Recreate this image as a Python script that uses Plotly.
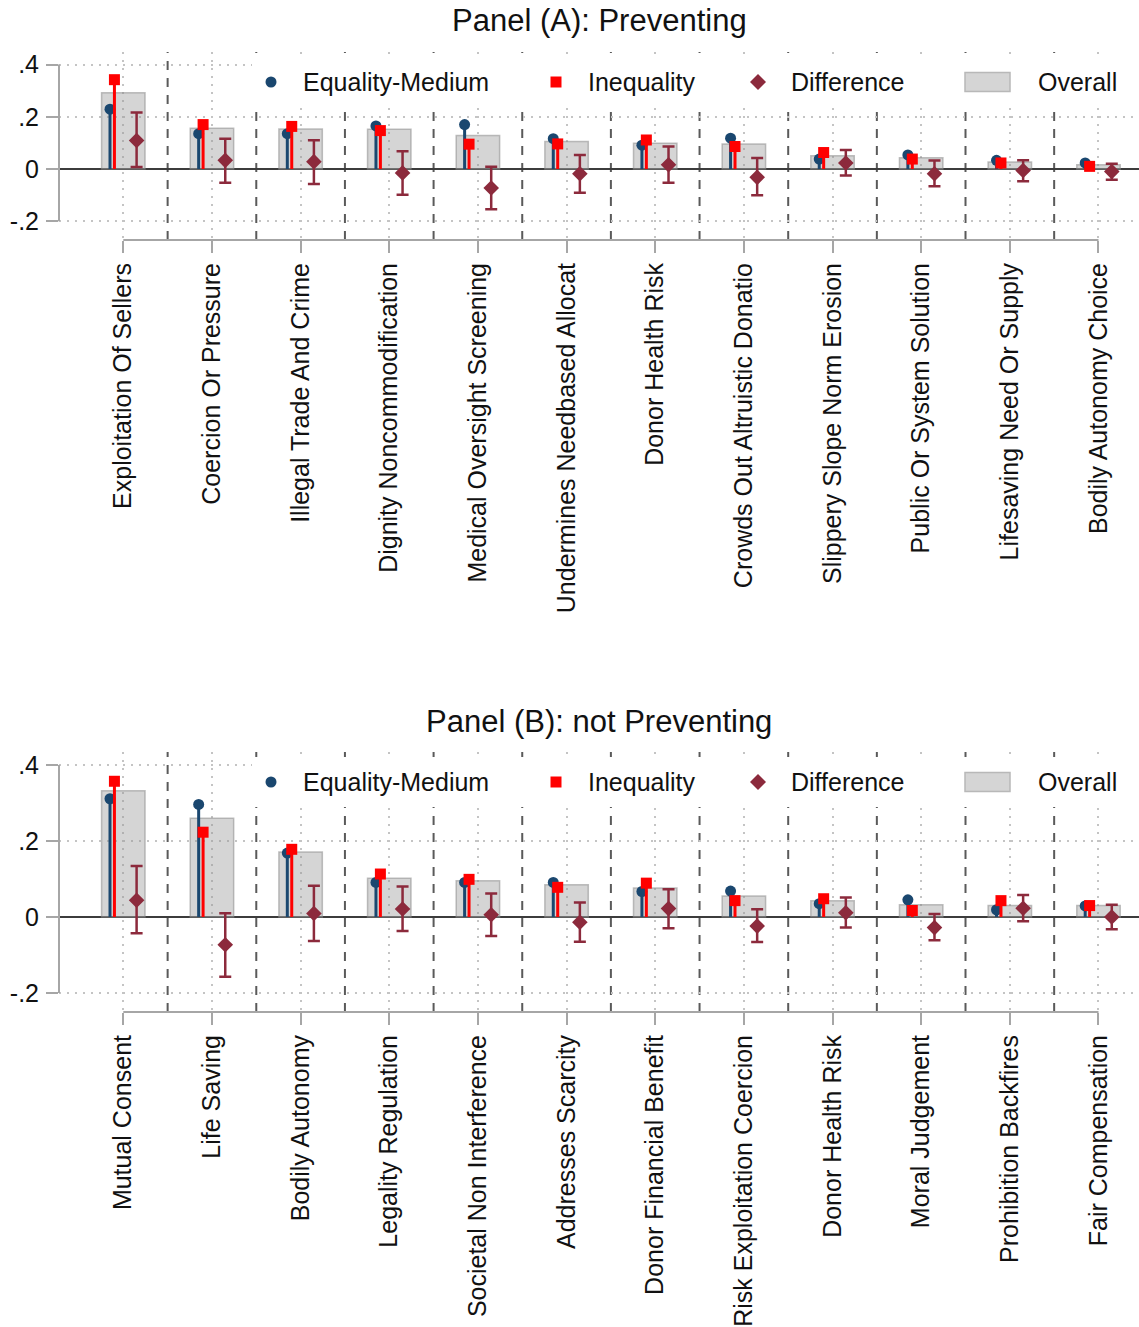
import plotly.graph_objects as go

# ---------------- data ----------------
cats_a = [
    "Exploitation Of Sellers", "Coercion Or Pressure", "Illegal Trade And Crime",
    "Dignity Noncommodification", "Medical Oversight Screening",
    "Undermines Needbased Allocat", "Donor Health Risk",
    "Crowds Out Altruistic Donatio", "Slippery Slope Norm Erosion",
    "Public Or System Solution", "Lifesaving Need Or Supply", "Bodily Autonomy Choice",
]
eq_a = [0.229, 0.135, 0.135, 0.165, 0.170, 0.116, 0.091, 0.118, 0.038, 0.054, 0.033, 0.023]
ineq_a = [0.342, 0.170, 0.163, 0.147, 0.095, 0.096, 0.111, 0.086, 0.063, 0.038, 0.023, 0.010]
overall_a = [0.292, 0.156, 0.153, 0.152, 0.128, 0.105, 0.099, 0.096, 0.051, 0.043, 0.027, 0.016]
diff_a = [0.109, 0.033, 0.028, -0.015, -0.073, -0.018, 0.016, -0.032, 0.023, -0.018, -0.006, -0.010]
diff_lo_a = [0.008, -0.053, -0.058, -0.099, -0.154, -0.091, -0.053, -0.101, -0.025, -0.066, -0.047, -0.041]
diff_hi_a = [0.216, 0.116, 0.110, 0.068, 0.009, 0.054, 0.086, 0.042, 0.073, 0.032, 0.033, 0.020]

cats_b = [
    "Mutual Consent", "Life Saving", "Bodily Autonomy", "Legality Regulation",
    "Societal Non Interference", "Addresses Scarcity", "Donor Financial Benefit",
    "Risk Exploitation Coercion", "Donor Health Risk", "Moral Judgement",
    "Prohibition Backfires", "Fair Compensation",
]
eq_b = [0.311, 0.296, 0.168, 0.091, 0.091, 0.091, 0.067, 0.068, 0.035, 0.045, 0.019, 0.029]
ineq_b = [0.357, 0.223, 0.178, 0.113, 0.099, 0.078, 0.089, 0.043, 0.048, 0.017, 0.043, 0.030]
overall_b = [0.332, 0.260, 0.171, 0.102, 0.095, 0.085, 0.076, 0.055, 0.043, 0.032, 0.030, 0.030]
diff_b = [0.044, -0.073, 0.009, 0.021, 0.006, -0.014, 0.022, -0.024, 0.011, -0.028, 0.023, 0.000]
diff_lo_b = [-0.043, -0.157, -0.063, -0.037, -0.050, -0.065, -0.030, -0.066, -0.028, -0.061, -0.011, -0.032]
diff_hi_b = [0.134, 0.010, 0.082, 0.080, 0.062, 0.038, 0.073, 0.020, 0.051, 0.008, 0.058, 0.032]

y_ticks = [-0.2, 0, 0.2, 0.4]
y_ticktext = ["-.2", "0", ".2", ".4"]
titles = ["Panel (A): Preventing", "Panel (B): not Preventing"]
legend_names = ["Equality-Medium", "Inequality", "Difference", "Overall"]

# ---------------- styling ----------------
W, H = 1139, 1327
FONT = "Liberation Sans, Arial, sans-serif"
NAVY = "#1a476f"
RED = "#ff0000"
MAROON = "#8c2a3c"
BAR_FILL = "rgba(150,150,150,0.40)"
BAR_LINE = "rgba(140,140,140,0.55)"
AXIS_GRAY = "#a6a6a6"
GRID = "#c4c4c4"
SEP = "#5a5a5a"

OFF_EQ, OFF_INEQ, OFF_DIFF = -0.15, -0.10, 0.15
X_RANGE = [-0.7253, 11.457]


def px_x(p):
    return p / W


def px_y(p):
    return 1 - p / H


panels = [
    dict(cats=cats_a, eq=eq_a, ineq=ineq_a, overall=overall_a, diff=diff_a,
         lo=diff_lo_a, hi=diff_hi_a, top=52, bottom=240, yr=[-0.272, 0.448],
         title_y=21, legend_y=82),
    dict(cats=cats_b, eq=eq_b, ineq=ineq_b, overall=overall_b, diff=diff_b,
         lo=diff_lo_b, hi=diff_hi_b, top=752, bottom=1012, yr=[-0.25, 0.434],
         title_y=721, legend_y=782),
]

fig = go.Figure()
shapes = []
annotations = []
layout_axes = {}

for k, p in enumerate(panels):
    sfx = "" if k == 0 else str(k + 1)
    xa, ya = "x" + sfx, "y" + sfx
    n = len(p["cats"])
    idx = list(range(n))

    # overall share as shaded bars
    fig.add_trace(go.Bar(
        x=idx, y=p["overall"], width=0.49, xaxis=xa, yaxis=ya,
        marker=dict(color=BAR_FILL, line=dict(color=BAR_LINE, width=1.5)),
        name=legend_names[3], showlegend=False,
    ))
    # group estimates drawn as lollipops (stem from zero to the value)
    for vals, off, col, sym, size, name in [
        (p["eq"], OFF_EQ, NAVY, "circle", 11, legend_names[0]),
        (p["ineq"], OFF_INEQ, RED, "square", 11, legend_names[1]),
    ]:
        fig.add_trace(go.Scatter(
            x=[i + off for i in idx], y=vals, mode="markers", xaxis=xa, yaxis=ya,
            marker=dict(color=col, symbol=sym, size=size),
            error_y=dict(type="data", symmetric=False,
                         array=[max(-v, 0) for v in vals],
                         arrayminus=[max(v, 0) for v in vals],
                         width=0, thickness=3, color=col),
            name=name, showlegend=False,
        ))
    # difference with confidence interval
    fig.add_trace(go.Scatter(
        x=[i + OFF_DIFF for i in idx], y=p["diff"], mode="markers", xaxis=xa, yaxis=ya,
        marker=dict(color=MAROON, symbol="diamond", size=12),
        error_y=dict(type="data", symmetric=False,
                     array=[h - d for h, d in zip(p["hi"], p["diff"])],
                     arrayminus=[d - l for d, l in zip(p["diff"], p["lo"])],
                     width=6, thickness=2.5, color=MAROON),
        name=legend_names[2], showlegend=False,
    ))

    layout_axes["xaxis" + sfx] = dict(
        domain=[px_x(59), 1], range=X_RANGE, anchor=ya, automargin=False,
        tickmode="array", tickvals=idx, ticktext=p["cats"], tickangle=-90,
        ticks="outside", ticklen=12, tickwidth=2, tickcolor=AXIS_GRAY,
        ticklabelstandoff=0,
        tickfont=dict(family=FONT, size=25, color="#111111"),
        showgrid=True, gridcolor=GRID, gridwidth=1.5, griddash="2px,6px",
        showline=False, zeroline=False, fixedrange=True,
    )
    layout_axes["yaxis" + sfx] = dict(
        domain=[px_y(p["bottom"]), px_y(p["top"])], range=p["yr"], anchor=xa,
        automargin=False,
        tickmode="array", tickvals=y_ticks, ticktext=y_ticktext,
        ticks="outside", ticklen=12, tickwidth=2, tickcolor=AXIS_GRAY,
        ticklabelstandoff=2,
        tickfont=dict(family=FONT, size=25, color="#111111"),
        showgrid=True, gridcolor=GRID, gridwidth=1.5, griddash="2px,6px",
        zeroline=True, zerolinecolor="#3c3c3c", zerolinewidth=2,
        showline=False, fixedrange=True,
    )

    # axis lines spanning only the labelled range
    shapes.append(dict(type="line", xref=xa + " domain", yref=ya, x0=0, x1=0,
                       y0=-0.2, y1=0.4, line=dict(color=AXIS_GRAY, width=2)))
    shapes.append(dict(type="line", xref=xa, yref=ya + " domain", x0=0, x1=n - 1,
                       y0=0, y1=0, line=dict(color=AXIS_GRAY, width=2)))
    # dashed separators between categories
    for i in range(n - 1):
        shapes.append(dict(type="line", xref=xa, yref=ya + " domain", x0=i + 0.5,
                           x1=i + 0.5, y0=0, y1=1, layer="below",
                           line=dict(color=SEP, width=2, dash="9px,8px")))

    # panel title
    annotations.append(dict(text=titles[k], x=px_x(599), y=px_y(p["title_y"]),
                            xref="paper", yref="paper", xanchor="center",
                            yanchor="middle", showarrow=False,
                            font=dict(family=FONT, size=31, color="#111111")))

    # key with a white backing box
    ly = p["legend_y"]
    shapes.append(dict(type="rect", xref="paper", yref="paper",
                       x0=px_x(252), x1=px_x(1137), y0=px_y(ly + 25), y1=px_y(ly - 25),
                       fillcolor="white", line=dict(width=0)))
    r = 5.5
    shapes.append(dict(type="circle", xref="paper", yref="paper",
                       x0=px_x(271 - r), x1=px_x(271 + r), y0=px_y(ly + r), y1=px_y(ly - r),
                       fillcolor=NAVY, line=dict(width=0)))
    shapes.append(dict(type="rect", xref="paper", yref="paper",
                       x0=px_x(556 - r), x1=px_x(556 + r), y0=px_y(ly + r), y1=px_y(ly - r),
                       fillcolor=RED, line=dict(width=0)))
    d = 8
    shapes.append(dict(type="path", xref="paper", yref="paper",
                       path=(f"M {px_x(758 - d)} {px_y(ly)} L {px_x(758)} {px_y(ly - d)} "
                             f"L {px_x(758 + d)} {px_y(ly)} L {px_x(758)} {px_y(ly + d)} Z"),
                       fillcolor=MAROON, line=dict(width=0)))
    shapes.append(dict(type="rect", xref="paper", yref="paper",
                       x0=px_x(965), x1=px_x(1010), y0=px_y(ly + 9.5), y1=px_y(ly - 9.5),
                       fillcolor="#d5d5d5", line=dict(color="#b8b8b8", width=1.5)))
    for name, tx in zip(legend_names, [301, 586, 789, 1036]):
        annotations.append(dict(text=name, x=px_x(tx), y=px_y(ly), xref="paper",
                                yref="paper", xanchor="left", yanchor="middle",
                                showarrow=False,
                                font=dict(family=FONT, size=25, color="#111111")))

fig.update_layout(
    width=W, height=H, margin=dict(l=0, r=0, t=0, b=0),
    paper_bgcolor="white", plot_bgcolor="white",
    showlegend=False, barmode="overlay",
    shapes=shapes, annotations=annotations,
    font=dict(family=FONT),
    **layout_axes,
)

fig.write_html("out.html")
